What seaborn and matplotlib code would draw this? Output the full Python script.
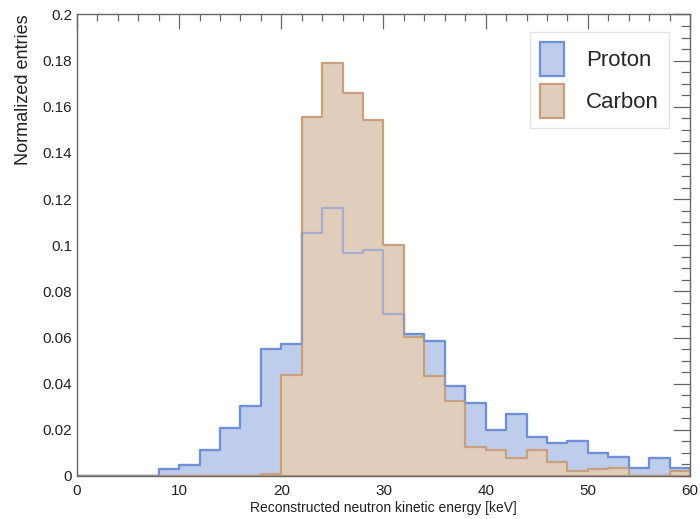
import numpy as np
import pandas as pd
import matplotlib
matplotlib.use("Agg")
import matplotlib.pyplot as plt
from matplotlib.ticker import MultipleLocator, FuncFormatter
from matplotlib.patches import Patch
import seaborn as sns

# 2 keV bins from 0 to 60 keV
bin_edges = list(range(0, 62, 2))
species = ["Proton", "Carbon"]

proton = [0, 0, 0, 0, 0.0030, 0.0048, 0.0113, 0.0207, 0.0303, 0.0549,
          0.0572, 0.1052, 0.1160, 0.0968, 0.0980, 0.0701, 0.0615, 0.0586,
          0.0391, 0.0315, 0.0199, 0.0269, 0.0168, 0.0142, 0.0150, 0.0098,
          0.0082, 0.0036, 0.0079, 0.0036]
carbon = [0, 0, 0, 0, 0, 0, 0, 0, 0, 0.0009,
          0.0438, 0.1557, 0.1789, 0.1661, 0.1543, 0.1001, 0.0601, 0.0433,
          0.0326, 0.0127, 0.0113, 0.0077, 0.0113, 0.0059, 0.0022, 0.0029,
          0.0036, 0.0000, 0.0000, 0.0023]

edges = np.array(bin_edges, dtype=float)
centers = (edges[:-1] + edges[1:]) / 2
df = pd.DataFrame({
    "energy": np.concatenate([centers, centers]),
    "weight": np.concatenate([proton, carbon]),
    "species": np.repeat(species, len(centers)),
})

sns.set_style("white")
plt.rcParams["font.family"] = ["Liberation Sans", "DejaVu Sans"]

fig = plt.figure(figsize=(7.0, 5.19), dpi=100)
ax = fig.add_axes([0.11, 0.0829, 0.8757, 0.8892])

styles = {
    "Proton": dict(face=(0.545, 0.647, 0.867, 0.55), edge="#6f8fd8"),
    "Carbon": dict(face="#e0cdbc", edge="#c9a07e"),
}
for name in species:
    sub = df[df["species"] == name]
    sns.histplot(data=sub, x="energy", weights="weight", bins=bin_edges,
                 element="step", fill=True, ax=ax,
                 facecolor=styles[name]["face"],
                 edgecolor=styles[name]["edge"], linewidth=1.6)

# proton outline shows faintly through the carbon fill
sub = df[df["species"] == "Proton"]
sns.histplot(data=sub, x="energy", weights="weight", bins=bin_edges,
             element="step", fill=False, ax=ax, color="#6f8fd8",
             alpha=0.5, linewidth=1.6)

ax.set_xlim(0, 60)
ax.set_ylim(0, 0.2)

ax.xaxis.set_major_locator(MultipleLocator(10))
ax.xaxis.set_minor_locator(MultipleLocator(2))
ax.yaxis.set_major_locator(MultipleLocator(0.02))
ax.yaxis.set_minor_locator(MultipleLocator(0.005))
ax.yaxis.set_major_formatter(FuncFormatter(lambda v, p: "%g" % round(v, 4)))
ax.tick_params(which="both", direction="in", top=True, right=True,
               color="#666666", width=0.9, labelsize=11, labelcolor="#222222")
ax.tick_params(axis="x", which="major", length=10.5, pad=6)
ax.tick_params(axis="x", which="minor", length=5)
ax.tick_params(axis="y", which="major", length=12.5)
ax.tick_params(axis="y", which="minor", length=6.5)
for s in ax.spines.values():
    s.set_color("#666666")
    s.set_linewidth(1.0)

ax.set_xlabel("Reconstructed neutron kinetic energy [keV]", fontsize=10,
              color="#222222", labelpad=2)
ax.set_ylabel("")
fig.text(0.033, 0.972, "Normalized entries", rotation=90, ha="center",
         va="top", fontsize=13, color="#222222")

handles = [Patch(facecolor=styles[n]["face"], edgecolor=styles[n]["edge"],
                 linewidth=1.6, label=n) for n in species]
leg = ax.legend(handles=handles, loc="upper right",
                bbox_to_anchor=(0.966, 0.962), borderaxespad=0,
                fontsize=16, frameon=True, fancybox=False,
                handlelength=1.1, handleheight=2.0, labelspacing=0.35,
                handletextpad=1.0, borderpad=0.45)
leg.get_frame().set_edgecolor("#dddddd")
leg.get_frame().set_linewidth(1.0)

fig.savefig("out.png", dpi=100)
